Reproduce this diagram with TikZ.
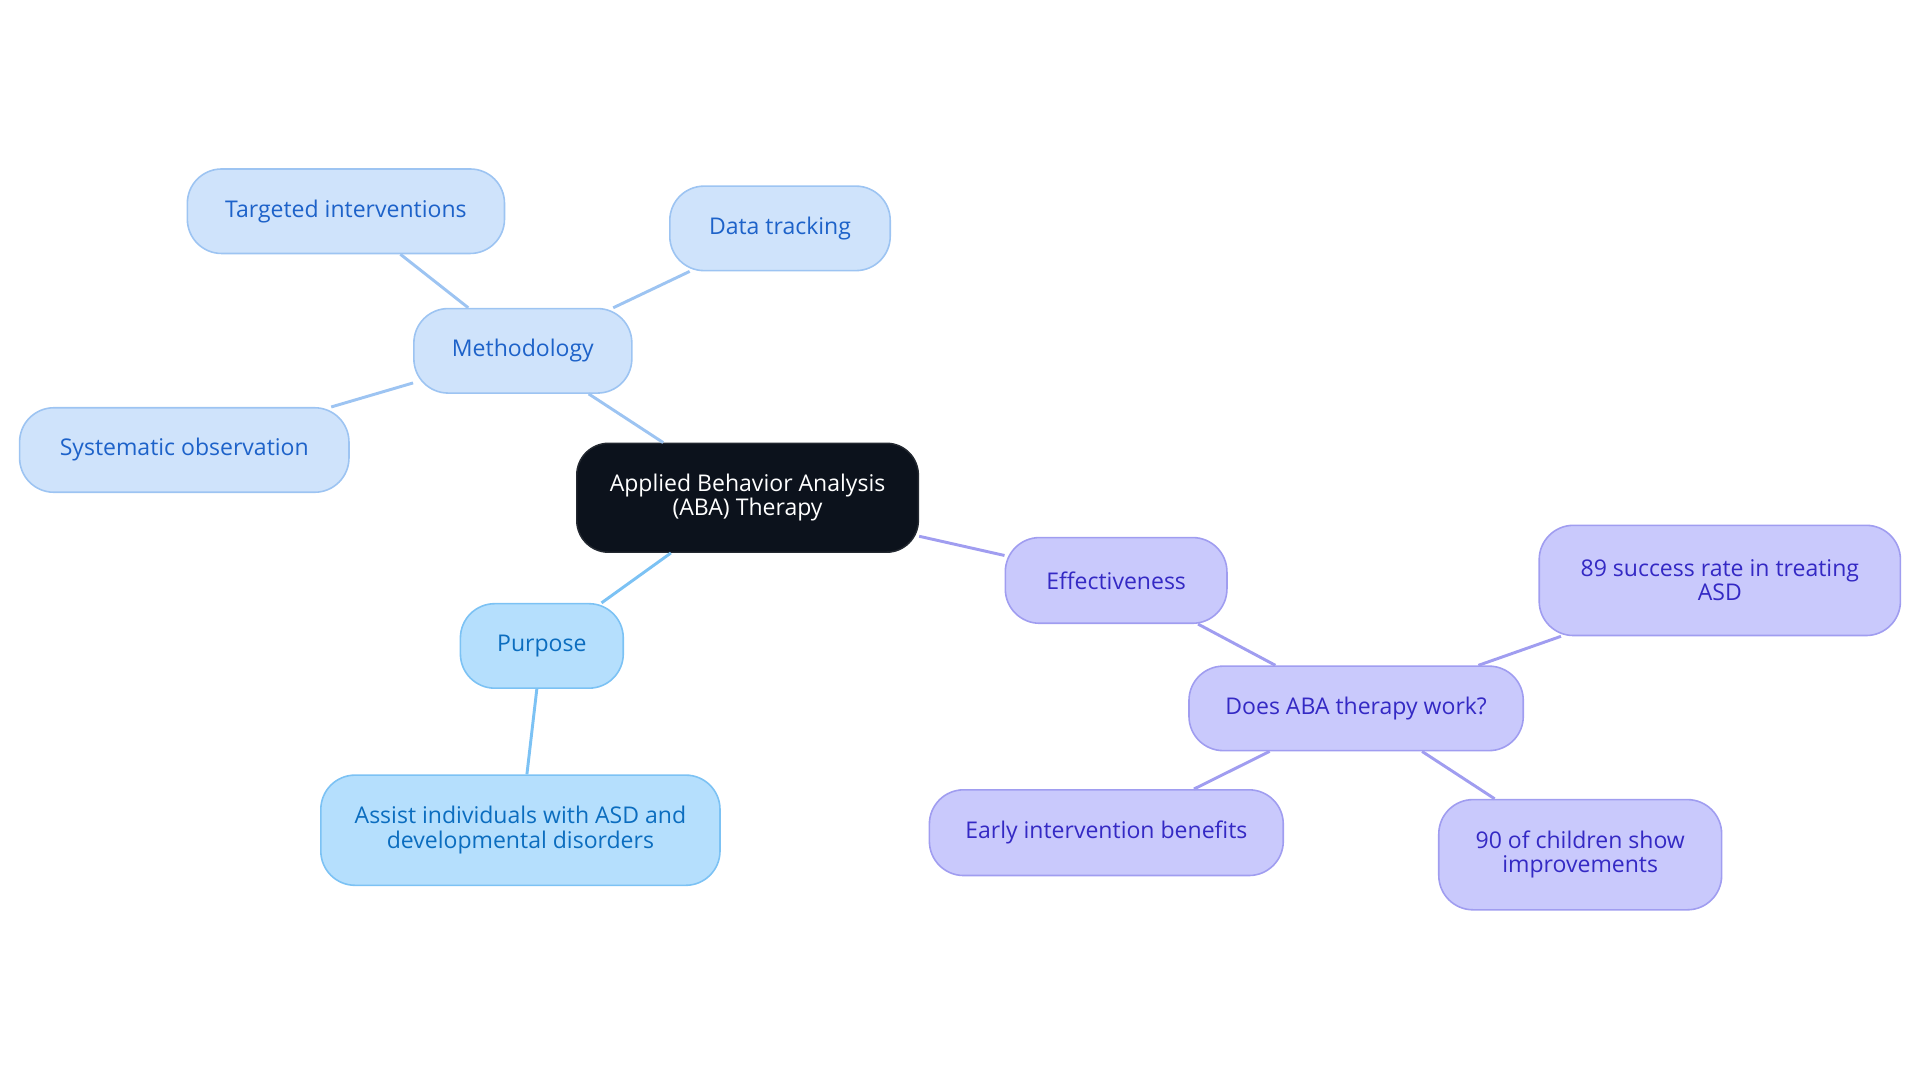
\documentclass[tikz,border=0pt]{standalone}
\usepackage{fontspec}
\setmainfont{Open Sans}
\usepackage{xcolor}
\usepackage{tikz}
\usetikzlibrary{positioning}
\definecolor{rootfill}{HTML}{0C121C}
\definecolor{methodfill}{HTML}{CFE3FB}
\definecolor{methoddraw}{HTML}{9DC4F2}
\definecolor{methodtext}{HTML}{1D62C9}
\definecolor{purposefill}{HTML}{B5DFFD}
\definecolor{purposedraw}{HTML}{7CC2F4}
\definecolor{purposetext}{HTML}{0B6DBF}
\definecolor{effectfill}{HTML}{C9C9FC}
\definecolor{effectdraw}{HTML}{A09DF0}
\definecolor{effecttext}{HTML}{3429C4}
\tikzset{
    topic/.style={
        rectangle,
        draw=rootfill!80!gray,
        line width=1.2pt,
        rounded corners=26pt,
        minimum width=279pt,
        minimum height=89pt,
        fill=rootfill,
        text=white,
        align=center,
        font=\fontsize{18.8}{20}\selectfont
    },
    leaf/.style={
        rectangle,
        line width=1.3pt,
        rounded corners=28pt,
        minimum height=69pt,
        align=center,
        font=\fontsize{18.8}{20}\selectfont
    },
    methodbox/.style={
        leaf,
        draw=methoddraw,
        fill=methodfill,
        text=methodtext
    },
    purposebox/.style={
        leaf,
        draw=purposedraw,
        fill=purposefill,
        text=purposetext
    },
    effectbox/.style={
        leaf,
        draw=effectdraw,
        fill=effectfill,
        text=effecttext
    },
    methodlink/.style={
        draw=methoddraw,
        line width=2.4pt
    },
    purposelink/.style={
        draw=purposedraw,
        line width=2.4pt
    },
    effectlink/.style={
        draw=effectdraw,
        line width=2.4pt
    }
}
\begin{document}
\begin{tikzpicture}[x=1pt, y=-1pt]

\useasboundingbox (0,0) rectangle (1568,884);

% Root
\node[topic] (aba) at (610.5,406.5) {Applied Behavior Analysis\\(ABA) Therapy};

% Methodology branch
\node[methodbox, minimum width=178pt] (method) at (427,286.5) {Methodology};
\node[methodbox, minimum width=259pt] (targeted) at (282.5,172.5) {Targeted interventions};
\node[methodbox, minimum width=180pt] (tracking) at (637,186.5) {Data tracking};
\node[methodbox, minimum width=269pt] (observe) at (150.5,367.5) {Systematic observation};

\draw[methodlink] (aba) -- (method);
\draw[methodlink] (method) -- (targeted);
\draw[methodlink] (method) -- (tracking);
\draw[methodlink] (method) -- (observe);

% Purpose branch
\node[purposebox, minimum width=133pt] (purpose) at (442.5,527.5) {Purpose};
\node[purposebox, minimum width=326pt, minimum height=90pt] (assist) at (425,678) {Assist individuals with ASD and\\developmental disorders};

\draw[purposelink] (aba) -- (purpose);
\draw[purposelink] (purpose) -- (assist);

% Effectiveness branch
\node[effectbox, minimum width=181pt, minimum height=70pt] (effect) at (911.5,474) {Effectiveness};
\node[effectbox, minimum width=273pt] (works) at (1107.5,578.5) {Does ABA therapy work?};
\node[effectbox, minimum width=295pt, minimum height=90pt] (success) at (1404.5,474) {89 success rate in treating\\ASD};
\node[effectbox, minimum width=289pt, minimum height=70pt] (early) at (903.5,680) {Early intervention benefits};
\node[effectbox, minimum width=231pt, minimum height=90pt] (children) at (1290.5,698) {90 of children show\\improvements};

\draw[effectlink] (aba) -- (effect);
\draw[effectlink] (effect) -- (works);
\draw[effectlink] (works) -- (success);
\draw[effectlink] (works) -- (early);
\draw[effectlink] (works) -- (children);

\end{tikzpicture}
\end{document}
